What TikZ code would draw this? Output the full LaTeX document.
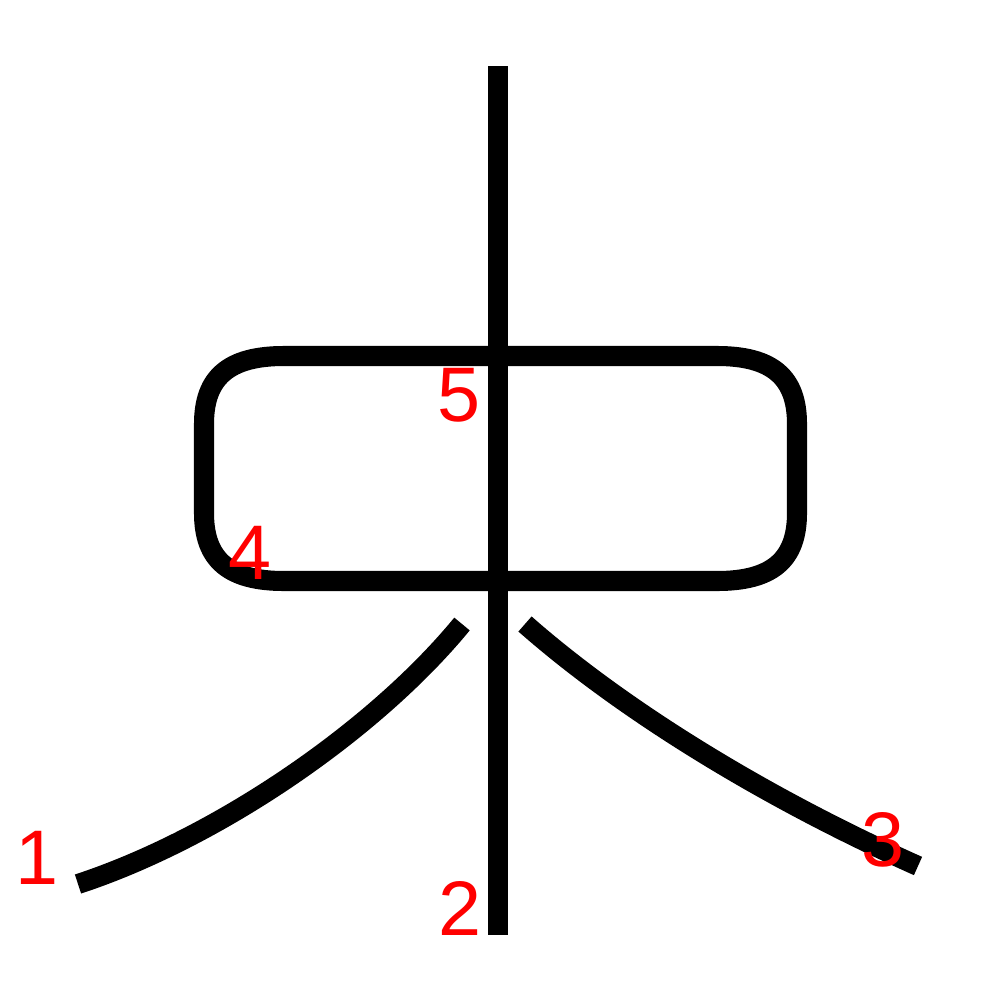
\documentclass[tikz,border=0pt]{standalone}
\usepackage{fontspec}
\setmainfont{Liberation Sans}
\begin{document}
\begin{tikzpicture}[x=0.01cm,y=-0.01cm,
  stroke/.style={line width=5.7pt,black},
  num/.style={text=red,font=\fontsize{22pt}{22pt}\selectfont,inner sep=0pt}]
\useasboundingbox (0,0) rectangle (1000,1000);
\fill[white] (0,0) rectangle (1000,1000);
% stroke 1
\draw[stroke] (78,884) .. controls (218,838) and (375,730) .. (462,624);
% stroke 2
\draw[stroke] (498,66) -- (498,935);
% stroke 3
\draw[stroke] (525,624) .. controls (625,712) and (768,799) .. (918,866);
% box
\draw[stroke] (284,356) -- (717,356)
  .. controls (772,356) and (797,377) .. (797,424) -- (797,513)
  .. controls (797,560) and (772,581) .. (717,581) -- (284,581)
  .. controls (229,581) and (204,560) .. (204,513) -- (204,424)
  .. controls (204,377) and (229,356) .. (284,356) -- cycle;
% labels
\node[num] (n1) at (37,858) {1};
\node[num] (n2) at (460,908) {2};
\node[num] (n3) at (883,840) {3};
\node[num] (n4) at (250,553) {4};
\node[num] (n5) at (459,395) {5};
\end{tikzpicture}
\end{document}
